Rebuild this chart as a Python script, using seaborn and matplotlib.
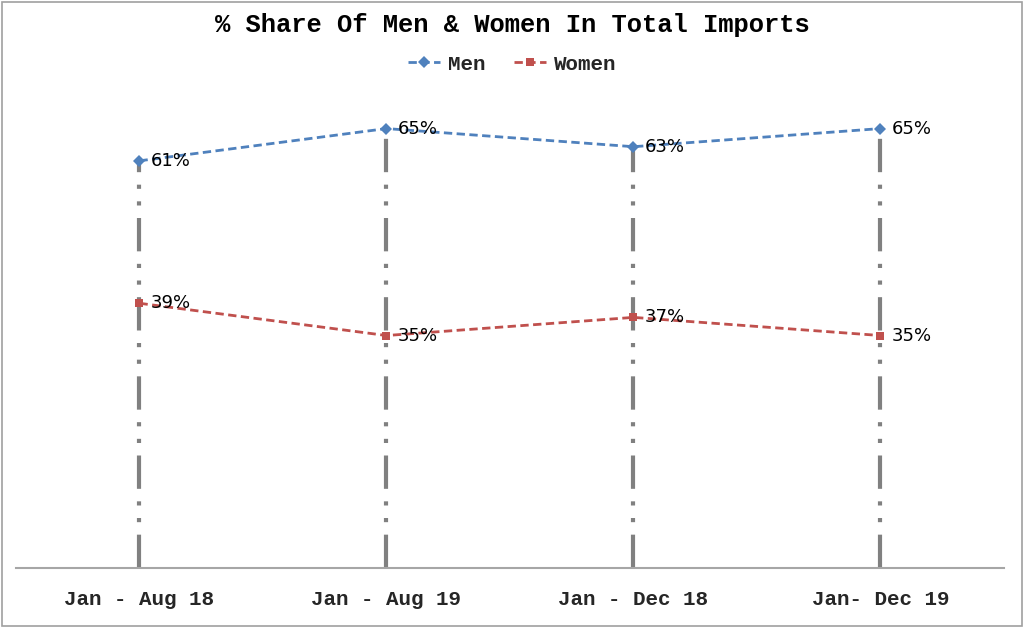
import matplotlib
matplotlib.use("Agg")
import matplotlib.pyplot as plt
from matplotlib.patches import Rectangle
import seaborn as sns
import pandas as pd

# chart data
periods = ['Jan - Aug 18', 'Jan - Aug 19', 'Jan - Dec 18', 'Jan- Dec 19']
men = [60.6, 65.4, 62.7, 65.4]
women = [39.4, 34.6, 37.3, 34.6]

df = pd.DataFrame({
    'period': periods * 2,
    'share': men + women,
    'group': ['Men'] * len(periods) + ['Women'] * len(periods),
})
df['pos'] = df['period'].map({p: i for i, p in enumerate(periods)})

sns.set_theme(style='white')
plt.rcParams['font.family'] = ['Liberation Mono', 'DejaVu Sans']

fig = plt.figure(figsize=(10.24, 6.28), dpi=100)
ax = fig.add_axes([0.0156, 0.0955, 0.9648, 0.749])

# drop lines from the top point down to the axis
tops = df.groupby('pos')['share'].max()
ax.vlines(tops.index, 0, tops.values, color='#808080', linewidth=3,
          linestyles=[(0, (8, 3, 1, 3, 1, 3))], zorder=1)

palette = {'Men': '#4F81BD', 'Women': '#C0504D'}
sns.lineplot(data=df, x='pos', y='share', hue='group', style='group',
             palette=palette, markers={'Men': 'D', 'Women': 's'},
             dashes={'Men': (3, 1.6), 'Women': (3, 1.6)}, linewidth=2,
             markersize=6, markeredgewidth=0, ax=ax, zorder=3)

for _, row in df.iterrows():
    ax.annotate(f"{row['share']:.0f}%", (row['pos'], row['share']),
                xytext=(8, 0), textcoords='offset points', va='center',
                ha='left', fontsize=13, family=['DejaVu Sans'], color='black',
                zorder=4)

ax.set_xlim(-0.5, 3.5)
ax.set_ylim(0, 70)
ax.set_xticks(range(len(periods)))
ax.set_xticklabels(periods, fontsize=15, fontweight='bold')
ax.tick_params(axis='x', length=0, pad=16)
ax.set_yticks([])
ax.set_xlabel('')
ax.set_ylabel('')
for side in ['top', 'left', 'right']:
    ax.spines[side].set_visible(False)
ax.spines['bottom'].set_color('#A6A6A6')
ax.spines['bottom'].set_linewidth(1.5)

fig.suptitle('% Share Of Men & Women In Total Imports', y=0.98,
             fontsize=18.4, fontweight='bold', color='black')

handles, labels = ax.get_legend_handles_labels()
ax.legend(handles, labels, loc='center', bbox_to_anchor=(0.5, 0.898),
          bbox_transform=fig.transFigure, ncol=2, frameon=False,
          prop={'family': 'Liberation Mono', 'weight': 'bold', 'size': 15},
          handlelength=1.55, handletextpad=0.38, columnspacing=1.35)

fig.patches.append(Rectangle((0.002, 0.003), 0.996, 0.994, transform=fig.transFigure,
                             fill=False, edgecolor='#A0A0A0', linewidth=1.2))

fig.savefig('out.png', dpi=100)
